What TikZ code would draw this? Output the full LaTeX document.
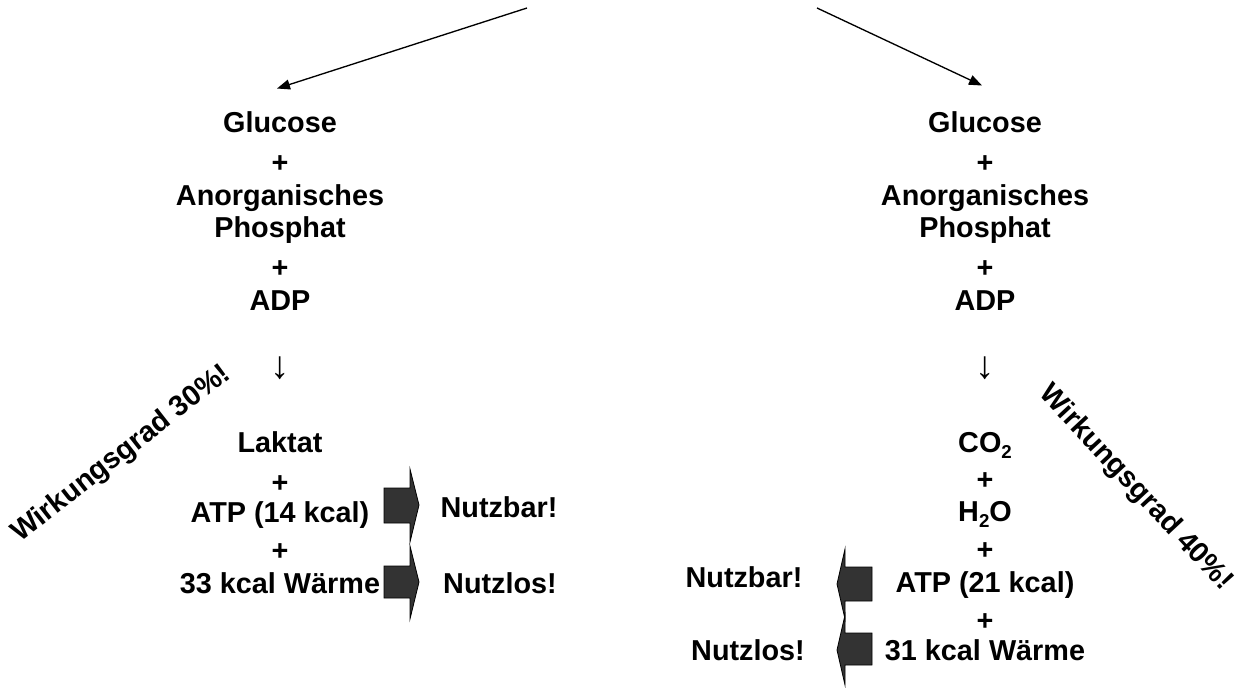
\documentclass[tikz,border=0pt]{standalone}
\usepackage{fontspec}
\setmainfont{Liberation Sans}
\usetikzlibrary{arrows.meta}
\newcommand{\tiefzwei}{\raisebox{-0.22em}{\fontsize{14}{14}\selectfont 2}}

\begin{document}
\begin{tikzpicture}[x=0.75pt,y=-0.75pt,
    stoff/.style={font=\bfseries\fontsize{21.6}{26}\selectfont, anchor=base, inner sep=1pt},
    runter/.style={font=\fontsize{29}{30}\selectfont, inner sep=0pt},
    block/.style={draw=black, fill=black!80, line width=0.6pt, line join=miter},
    zweig/.style={-{Triangle[length=9.75pt,width=7.5pt]}, line width=1pt}]
      \useasboundingbox (0,0) rectangle (1242,688);
      % linke Seite
      \node [stoff] (gluL) at (280,133) {Glucose};
      \node [stoff] (plusL1) at (280,173) {+};
      \node [stoff] (anoL) at (280,205) {Anorganisches};
      \node [stoff] (phosL) at (280,238) {Phosphat};
      \node [stoff] (plusL2) at (280,277) {+};
      \node [stoff] (adpL) at (280,310) {ADP};
      \node [runter] (pfeilL) at (280,368) {↓};
      \node [stoff] (lakL) at (280,452) {Laktat};
      \node [stoff] (plusL3) at (280,492) {+};
      \node [stoff] (atpL) at (280,522) {ATP (14 kcal)};
      \node [stoff] (plusL4) at (280,560) {+};
      \node [stoff] (waermeL) at (280,593) {33 kcal Wärme};
      \node [stoff, rotate=38] (gradL) at (126,460) {Wirkungsgrad 30\%!};
      \node [stoff] (nutzbarL) at (499,517) {Nutzbar!};
      \node [stoff] (nutzlosL) at (500,593) {Nutzlos!};
      \draw [block] (384,488) -- (410,488) -- (410,469) -- (419,505) -- (410,542) -- (410,523) -- (384,523) -- cycle;
      \draw [block] (384,566) -- (410,566) -- (410,546) -- (419,582) -- (410,619) -- (410,598) -- (384,598) -- cycle;
      % rechte Seite
      \node [stoff] (gluR) at (985,133) {Glucose};
      \node [stoff] (plusR1) at (985,173) {+};
      \node [stoff] (anoR) at (985,205) {Anorganisches};
      \node [stoff] (phosR) at (985,238) {Phosphat};
      \node [stoff] (plusR2) at (985,277) {+};
      \node [stoff] (adpR) at (985,310) {ADP};
      \node [runter] (pfeilR) at (985,368) {↓};
      \node [stoff] (co2R) at (985,452) {CO\tiefzwei};
      \node [stoff] (plusR3) at (985,489) {+};
      \node [stoff] (h2oR) at (985,521) {H\tiefzwei O};
      \node [stoff] (plusR4) at (985,559) {+};
      \node [stoff] (atpR) at (985,592) {ATP (21 kcal)};
      \node [stoff] (plusR5) at (985,630) {+};
      \node [stoff] (waermeR) at (985,660) {31 kcal Wärme};
      \node [stoff, rotate=-47] (gradR) at (1130,493) {Wirkungsgrad 40\%!};
      \node [stoff] (nutzbarR) at (744,587) {Nutzbar!};
      \node [stoff] (nutzlosR) at (748,660) {Nutzlos!};
      \draw [block] (872,567) -- (845,567) -- (845,549) -- (837,584) -- (845,619) -- (845,601) -- (872,601) -- cycle;
      \draw [block] (872,633) -- (845,633) -- (845,615) -- (837,650) -- (845,685) -- (845,665) -- (872,665) -- cycle;
      % Verzweigung oben
      \coordinate (startL) at (527,8);
      \coordinate (startR) at (817,8);
      \draw [zweig] (startL) -- ([xshift=-2.25pt,yshift=16.5pt]gluL.north);
      \draw [zweig] (startR) -- ([xshift=-2.25pt,yshift=18.75pt]gluR.north);
    \end{tikzpicture}
\end{document}
